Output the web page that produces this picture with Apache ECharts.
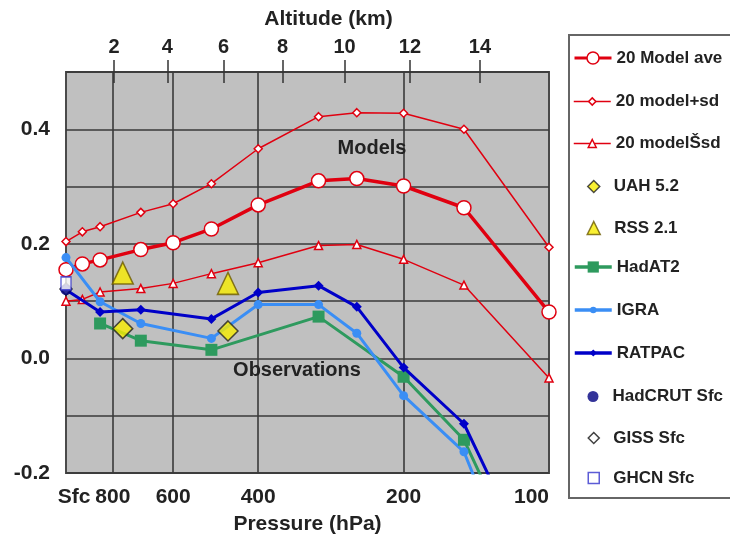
<!DOCTYPE html>
<html lang="en">
<head>
  <meta charset="UTF-8">
  <title>Temperature trends vs pressure</title>
  <script src="https://cdn.jsdelivr.net/npm/echarts@6.0.0/dist/echarts.min.js"></script>
</head>
<body style="margin:0;background:#fff;">
  <div id="chart" style="width:730px;height:542px;"></div>
  <script>
    // pressure levels (hPa), Sfc plotted at 1000
    var modelLevels = [1000, 925, 850, 700, 600, 500, 400, 300, 250, 200, 150, 100];
    var modelAve   = [0.155, 0.165, 0.172, 0.190, 0.202, 0.226, 0.268, 0.310, 0.314, 0.301, 0.263, 0.081];
    var modelPlus  = [0.204, 0.221, 0.230, 0.255, 0.270, 0.305, 0.366, 0.422, 0.429, 0.428, 0.400, 0.194];
    var modelMinus = [0.100, 0.103, 0.116, 0.122, 0.131, 0.148, 0.167, 0.197, 0.199, 0.173, 0.128, -0.034];

    var hadatLevels = [850, 700, 500, 300, 200, 150, 100];
    var hadat2 = [0.061, 0.031, 0.015, 0.073, -0.032, -0.142, -0.46];

    var sondeLevels = [1000, 850, 700, 500, 400, 300, 250, 200, 150, 100];
    var igra   = [0.176, 0.099, 0.061, 0.035, 0.094, 0.094, 0.044, -0.065, -0.163, -0.53];
    var ratpac = [0.120, 0.081, 0.085, 0.069, 0.115, 0.127, 0.090, -0.016, -0.114, -0.425];

    // satellite layers (TLT, TMT)
    var msuLevels = [763, 462];
    var uah = [0.052, 0.048];
    var rss = [0.149, 0.131];

    // surface
    var sfcLevel = 1000;
    var hadcrutSfc = 0.120;
    var gissSfc = 0.121;
    var ghcnSfc = 0.131;

    // axes
    var pressTicks  = [100, 200, 400, 600, 800, 1000];
    var pressLabels = ['100', '200', '400', '600', '800', 'Sfc'];
    var gridPress   = [200, 400, 600, 800];
    var altPress    = [795, 617, 472, 356, 265, 194, 139];
    var altLabels   = ['2', '4', '6', '8', '10', '12', '14'];

    var FONT = 'Liberation Sans, Arial, sans-serif';
    var RED = '#E00010';

    function pts(levels, vals) {
      return levels.map(function (p, i) { return [Math.log10(p), vals[i]]; });
    }
    function lookup(v, ticks, labels) {
      for (var i = 0; i < ticks.length; i++) {
        if (Math.abs(Math.log10(ticks[i]) - v) < 1e-6) return labels[i];
      }
      return '';
    }

    var chart = echarts.init(document.getElementById('chart'));

    // one legend block per entry so each row can have its own symbol size
    function lineLegend(name, cy, h, lw) {
      return {
        data: [name], selectedMode: false, orient: 'vertical',
        left: 573, top: cy - 10, padding: 0, itemGap: 0,
        itemWidth: 37, itemHeight: h,
        lineStyle: { width: lw },
        itemStyle: { borderWidth: 1.5 },
        textStyle: { fontSize: 17, fontWeight: 'bold', color: '#222', lineHeight: 20, fontFamily: FONT }
      };
    }
    function dotLegend(name, cy, h) {
      return {
        data: [name], selectedMode: false, orient: 'vertical',
        left: 593 - h / 2, top: cy - 10, padding: 0, itemGap: 0,
        itemWidth: h, itemHeight: h,
        itemStyle: { borderWidth: 1.5 },
        textStyle: { fontSize: 17, fontWeight: 'bold', color: '#222', lineHeight: 20, fontFamily: FONT,
                     padding: [0, 0, 0, 9] }
      };
    }

    var option = {
      animation: false,
      backgroundColor: '#fff',
      grid: {
        left: 66, right: 181, top: 72, bottom: 69,
        show: true, backgroundColor: '#C0C0C0', borderColor: '#4a4a4a', borderWidth: 2,
        outerBoundsMode: 'none'
      },
      xAxis: [{
        type: 'value', min: 2, max: 3, inverse: true, position: 'bottom',
        axisLine: { show: false },
        axisTick: { show: false, customValues: gridPress.map(Math.log10) },
        splitLine: { show: true, lineStyle: { color: '#3a3a3a', width: 1.6 } },
        axisLabel: {
          customValues: pressTicks.map(Math.log10),
          formatter: function (v) {
            var s = lookup(v, pressTicks, pressLabels);
            return s === 'Sfc' ? '{s|Sfc}' : s;
          },
          rich: { s: { padding: [0, 0, 0, 16], fontSize: 21, fontWeight: 'bold', color: '#222', fontFamily: FONT } },
          alignMinLabel: 'right',
          margin: 14, fontSize: 21, fontWeight: 'bold', color: '#222', fontFamily: FONT
        },
        name: 'Pressure (hPa)', nameLocation: 'middle', nameGap: 41,
        nameTextStyle: { fontSize: 21, fontWeight: 'bold', color: '#222', fontFamily: FONT }
      }, {
        type: 'value', min: 2, max: 3, inverse: true, position: 'top', offset: -11,
        axisLine: { show: false },
        axisTick: { show: true, length: 23, customValues: altPress.map(Math.log10),
                    lineStyle: { color: '#333', width: 1.5 } },
        splitLine: { show: false },
        axisLabel: {
          customValues: altPress.map(Math.log10),
          formatter: function (v) { return lookup(v, altPress, altLabels); },
          margin: 26, fontSize: 20, fontWeight: 'bold', color: '#222', fontFamily: FONT
        },
        name: 'Altitude (km)', nameLocation: 'middle', nameGap: 53,
        nameTextStyle: { fontSize: 21, fontWeight: 'bold', color: '#222', fontFamily: FONT,
                         padding: [0, 0, 0, 42] }
      }],
      yAxis: {
        type: 'value', min: -0.2, max: 0.5, interval: 0.1,
        axisLine: { show: false }, axisTick: { show: false },
        splitLine: { show: true, lineStyle: { color: '#3a3a3a', width: 1.6 } },
        axisLabel: {
          formatter: function (v) {
            return Math.round(v * 10) % 2 === 0 ? v.toFixed(1) : '';
          },
          margin: 16, fontSize: 21, fontWeight: 'bold', color: '#222', fontFamily: FONT
        }
      },
      legend: [
        lineLegend('20 Model ave', 58, 15, 3),
        lineLegend('20 model+sd', 101.5, 9, 1.5),
        lineLegend('20 modelŠsd', 143.5, 10, 1.5),
        dotLegend('UAH 5.2', 186.5, 12),
        dotLegend('RSS 2.1', 228, 13),
        lineLegend('HadAT2', 267, 14, 3.5),
        lineLegend('IGRA', 310, 8, 3.5),
        lineLegend('RATPAC', 353, 9, 3.5),
        dotLegend('HadCRUT Sfc', 396.5, 11),
        dotLegend('GISS Sfc', 438, 11),
        dotLegend('GHCN Sfc', 478, 11)
      ],
      graphic: [
        { type: 'rect', z: 0, shape: { x: 569, y: 35, width: 200, height: 463 },
          style: { fill: '#fff', stroke: '#666', lineWidth: 2 } },
        { type: 'text', z: 100, x: 372, y: 148,
          style: { text: 'Models', align: 'center', verticalAlign: 'middle',
                   font: 'bold 20px Liberation Sans, Arial, sans-serif', fill: '#222' } },
        { type: 'text', z: 100, x: 297, y: 370,
          style: { text: 'Observations', align: 'center', verticalAlign: 'middle',
                   font: 'bold 20px Liberation Sans, Arial, sans-serif', fill: '#222' } }
      ],
      series: [
        { name: '20 model+sd', type: 'line', data: pts(modelLevels, modelPlus),
          symbol: 'diamond', symbolSize: 8,
          lineStyle: { color: RED, width: 1.5 },
          itemStyle: { color: '#fff', borderColor: RED, borderWidth: 1.5 }, z: 3 },
        { name: '20 modelŠsd', type: 'line', data: pts(modelLevels, modelMinus),
          symbol: 'triangle', symbolSize: 8,
          lineStyle: { color: RED, width: 1.5 },
          itemStyle: { color: '#fff', borderColor: RED, borderWidth: 1.5 }, z: 3 },
        { name: '20 Model ave', type: 'line', data: pts(modelLevels, modelAve),
          symbol: 'circle', symbolSize: 14,
          lineStyle: { color: RED, width: 3.5 },
          itemStyle: { color: '#fff', borderColor: RED, borderWidth: 1.5 }, z: 4 },
        { name: 'HadAT2', type: 'line', data: pts(hadatLevels, hadat2),
          symbol: 'rect', symbolSize: 12,
          lineStyle: { color: '#2E9A5E', width: 3 },
          itemStyle: { color: '#2E9A5E' }, z: 5 },
        { name: 'IGRA', type: 'line', data: pts(sondeLevels, igra),
          symbol: 'circle', symbolSize: 9,
          lineStyle: { color: '#3A8EF5', width: 3 },
          itemStyle: { color: '#3A8EF5' }, z: 5 },
        { name: 'RATPAC', type: 'line', data: pts(sondeLevels, ratpac),
          symbol: 'diamond', symbolSize: 10,
          lineStyle: { color: '#0000C8', width: 3 },
          itemStyle: { color: '#0000C8' }, z: 6 },
        { name: 'GISS Sfc', type: 'scatter', data: [[Math.log10(sfcLevel), gissSfc]],
          symbol: 'diamond', symbolSize: 12,
          itemStyle: { color: '#fff', borderColor: '#111', borderWidth: 1.5 }, z: 7 },
        { name: 'HadCRUT Sfc', type: 'scatter', data: [[Math.log10(sfcLevel), hadcrutSfc]],
          symbol: 'circle', symbolSize: 11,
          itemStyle: { color: '#000080' }, z: 7 },
        { name: 'GHCN Sfc', type: 'scatter', data: [[Math.log10(sfcLevel), ghcnSfc]],
          symbol: 'rect', symbolSize: [10, 13],
          itemStyle: { color: '#fff', borderColor: '#3333CC', borderWidth: 1.5 }, z: 8 },
        { name: 'UAH 5.2', type: 'scatter', data: pts(msuLevels, uah),
          symbol: 'diamond', symbolSize: 20,
          itemStyle: { color: '#F8EC00', borderColor: '#222', borderWidth: 1.5 }, z: 9 },
        { name: 'RSS 2.1', type: 'scatter', data: pts(msuLevels, rss),
          symbol: 'triangle', symbolSize: [21, 22],
          itemStyle: { color: '#F8EC00', borderColor: '#6b5a00', borderWidth: 1.5 }, z: 9 }
      ]
    };

    chart.setOption(option);
  </script>
</body>
</html>
